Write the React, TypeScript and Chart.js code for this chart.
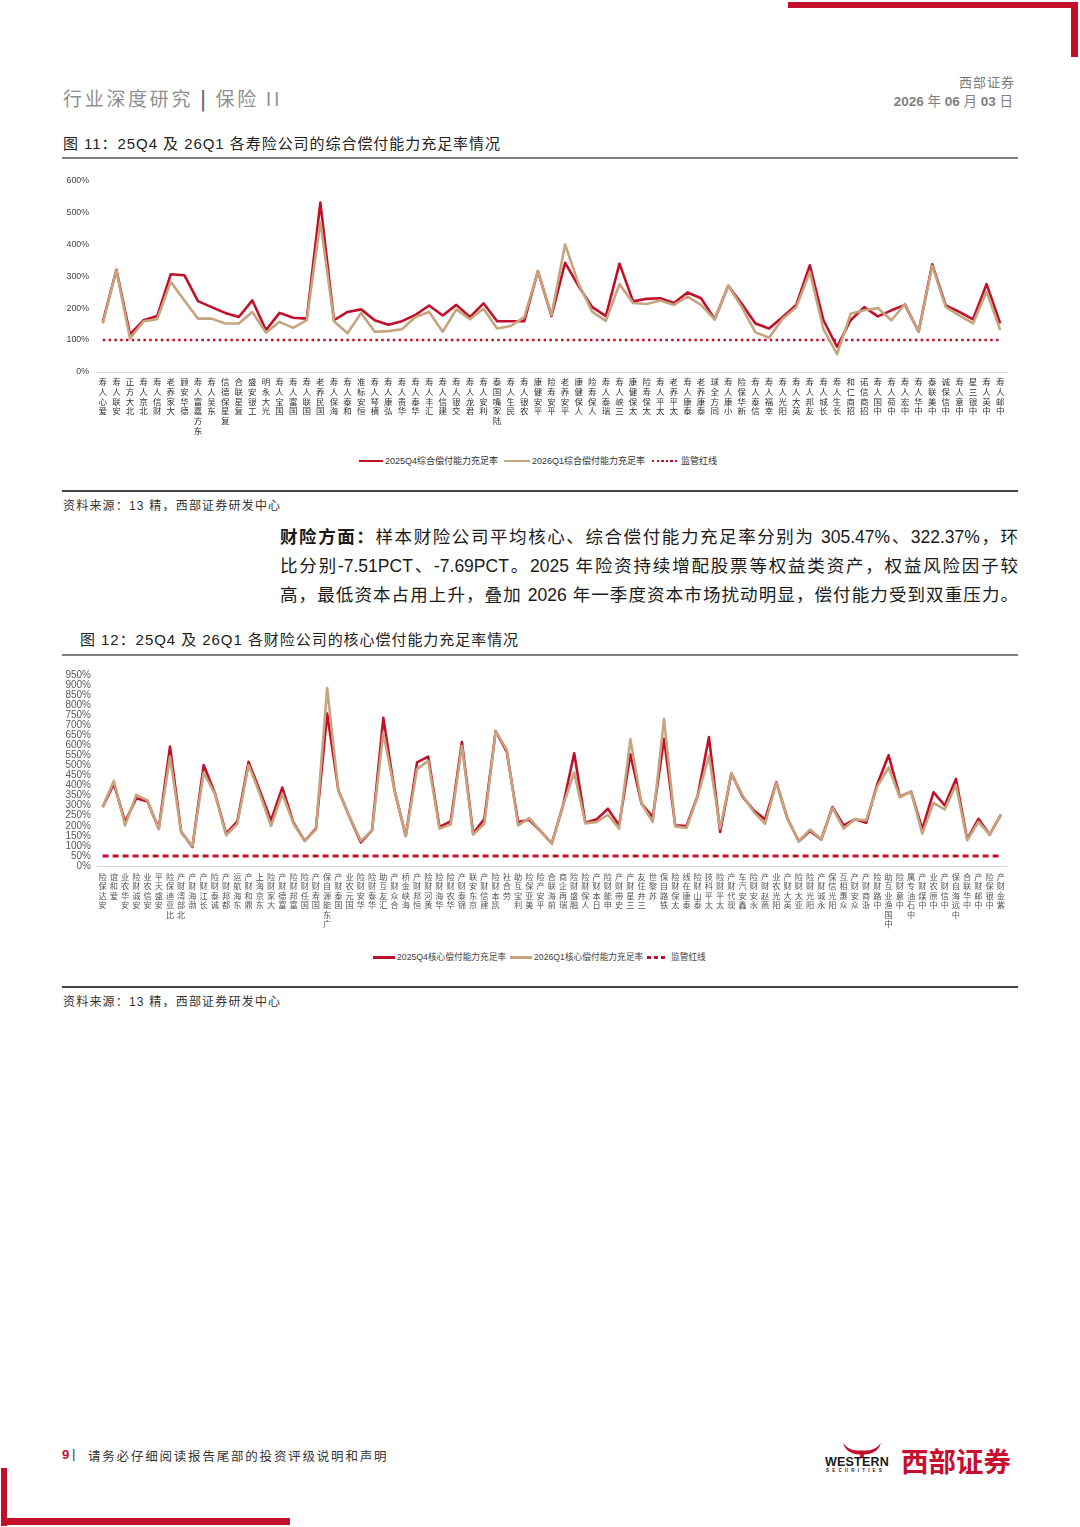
import { useEffect, useRef } from "react";
import { Chart, ChartConfiguration, registerables } from "chart.js";

Chart.register(...registerables);

const RED = "#C0102A";
const TAN = "#C5A57F";
const CJK = '"Noto Sans CJK SC", sans-serif';
const LATIN = '"Liberation Sans", Arial, "Noto Sans CJK SC", sans-serif';

Chart.defaults.font.family = CJK;

// 图11：寿险公司综合偿付能力充足率
const lifeCompanies = [
  "爱心人寿", "安联人寿", "北大方正", "北京人寿", "财信人寿", "大家养老", "德华安顾", "东方嘉富人寿", "东吴人寿", "复星保德信",
  "复星联合", "工银安盛", "光大永明", "国宝人寿", "国富人寿", "国联人寿", "国民养老", "海保人寿", "和泰人寿", "恒安标准",
  "横琴人寿", "弘康人寿", "华贵人寿", "华泰人寿", "汇丰人寿", "建信人寿", "交银人寿", "君龙人寿", "利安人寿", "陆家嘴国泰",
  "民生人寿", "农银人寿", "平安健康", "平安寿险", "平安养老", "人保健康", "人保寿险", "瑞泰人寿", "三峡人寿", "太保健康",
  "太保寿险", "太平人寿", "太平养老", "泰康人寿", "泰康养老", "同方全球", "小康人寿", "新华保险", "信泰人寿", "幸福人寿",
  "阳光人寿", "英大人寿", "友邦人寿", "长城人寿", "长生人寿", "招商仁和", "招商信诺", "中国人寿", "中荷人寿", "中宏人寿",
  "中华人寿", "中美联泰", "中信保诚", "中意人寿", "中银三星", "中英人寿", "中邮人寿",
];
const lifeQ4 = [
  157, 320, 118, 162, 175, 306, 303, 222, 203, 185,
  172, 224, 131, 185, 170, 167, 530, 162, 188, 196,
  162, 148, 159, 179, 208, 177, 210, 172, 215, 159,
  159, 159, 316, 175, 342, 268, 203, 175, 339, 221,
  229, 231, 216, 249, 231, 165, 270, 213, 152, 136,
  172, 210, 334, 162, 79, 162, 203, 174, 193, 210,
  126, 337, 208, 188, 165, 275, 152,
];
const lifeQ1 = [
  152, 318, 105, 159, 165, 282, 224, 167, 167, 152,
  152, 188, 123, 157, 138, 162, 470, 159, 121, 185,
  126, 128, 134, 172, 188, 126, 196, 165, 198, 136,
  144, 172, 316, 178, 399, 275, 188, 160, 275, 216,
  213, 224, 210, 236, 210, 164, 270, 203, 124, 107,
  167, 203, 313, 134, 56, 182, 193, 200, 162, 213,
  126, 332, 203, 177, 152, 252, 131,
];
const lifeRedLine = 100;
const lifeYMax = 600;
const lifeYStep = 100;

// 图12：财险公司核心偿付能力充足率
const propertyCompanies = [
  "安达保险", "爱和谊", "安华农业", "安诚财险", "安信农业", "安盛天平", "比亚迪保险", "北部湾财产", "渤海财产", "长江财产",
  "诚泰财险", "都邦财产", "东海航运", "鼎和财产", "东京海上", "大家财险", "富德财产", "富邦财险", "国任财险", "国寿财产",
  "广东能源自保", "国泰财产", "国元农业", "华安财险", "华泰财险", "汇友互助", "合众财产", "海峡金桥", "恒邦财产", "黄河财险",
  "华海财险", "华农财险", "锦泰财产", "京东安联", "建信财产", "凯本财险", "劳合社", "利宝互助", "美亚保险", "平安产险",
  "前海联合", "瑞再企商", "融盛财险", "人保财险", "日本财产", "申能财险", "史带财产", "三星财产", "三井住友", "苏黎世",
  "铁路自保", "太保财险", "泰康在线", "泰山财险", "太平科技", "太平财险", "现代财产", "鑫安汽车", "永安财险", "燕赵财产",
  "阳光农业", "英大财产", "亚太财险", "阳光财险", "永诚财产", "阳光信保", "众惠相互", "众安财产", "浙商财产", "中路财险",
  "中国渔业互助", "中意财险", "中石油专属", "中煤财产", "中原农业", "中信财产", "中远海自保", "中华联合", "中邮财产", "中银保险",
  "紫金财产",
];
const propertyQ4 = [
  293, 410, 219, 337, 321, 186, 594, 169, 95, 502,
  362, 161, 222, 518, 375, 227, 390, 215, 125, 186,
  758, 375, 243, 117, 178, 737, 375, 150, 515, 544,
  194, 222, 617, 161, 235, 671, 567, 219, 230, 174,
  112, 300, 561, 215, 232, 285, 202, 556, 309, 243,
  633, 202, 199, 350, 641, 169, 461, 345, 276, 232,
  416, 235, 123, 174, 132, 293, 202, 232, 215, 408,
  551, 345, 370, 183, 367, 301, 433, 133, 235, 156,
  255,
];
const propertyQ1 = [
  293, 424, 202, 354, 326, 183, 544, 166, 99, 465,
  359, 153, 210, 502, 359, 199, 359, 210, 125, 181,
  885, 375, 243, 125, 178, 663, 375, 150, 482, 523,
  186, 206, 597, 156, 210, 671, 577, 202, 238, 174,
  112, 300, 465, 212, 219, 255, 186, 630, 309, 219,
  732, 197, 189, 347, 548, 186, 461, 350, 268, 210,
  413, 235, 123, 181, 133, 288, 186, 232, 227, 396,
  490, 342, 370, 161, 314, 281, 403, 128, 219, 156,
  255,
];
const propertyRedLine = 50;
const propertyYMax = 950;
const propertyYStep = 50;

// 竖排标签：逐字换行，末字贴近坐标轴
const stacked = (name: string) => Array.from(name).reverse();

type SolvencyProps = {
  labels: string[];
  q4: number[];
  q1: number[];
  redLine: number;
  yMax: number;
  yStep: number;
  left: number;
  top: number;
  width: number;
  height: number;
  yAxisWidth: number;
  yPad: number;
  xPad: number;
  xFont: number;
  yFont: number;
  xColor: string;
  yColor: string;
  dash: number[];
  dashWidth: number;
};

function SolvencyChart(p: SolvencyProps) {
  const canvasRef = useRef<HTMLCanvasElement>(null);
  const chartRef = useRef<Chart | null>(null);

  useEffect(() => {
    if (!canvasRef.current) return;
    const ctx = canvasRef.current.getContext("2d");
    if (!ctx) return;

    if (chartRef.current) {
      chartRef.current.destroy();
    }

    const config: ChartConfiguration = {
      type: "line",
      data: {
        labels: p.labels.map(stacked),
        datasets: [
          {
            label: "2026Q1",
            data: p.q1,
            borderColor: TAN,
            borderWidth: 2.6,
            borderJoinStyle: "round",
            pointRadius: 0,
            tension: 0,
            order: 0,
          },
          {
            label: "2025Q4",
            data: p.q4,
            borderColor: RED,
            borderWidth: 2.6,
            borderJoinStyle: "round",
            pointRadius: 0,
            tension: 0,
            order: 1,
          },
          {
            label: "监管红线",
            data: p.labels.map(() => p.redLine),
            borderColor: RED,
            borderWidth: p.dashWidth,
            borderDash: p.dash,
            pointRadius: 0,
            order: 2,
          },
        ],
      },
      options: {
        responsive: false,
        animation: false,
        layout: { padding: { top: 10, right: 4, left: 0, bottom: 0 } },
        plugins: {
          legend: { display: false },
          tooltip: { enabled: false },
        },
        scales: {
          x: {
            offset: true,
            grid: { display: false, drawTicks: false },
            border: { display: true, color: "#d9d9d9", width: 1 },
            ticks: {
              autoSkip: false,
              minRotation: 0,
              maxRotation: 0,
              padding: p.xPad,
              color: p.xColor,
              font: { family: CJK, size: p.xFont, lineHeight: 1.15 },
            },
            afterFit: (scale) => {
              scale.height = 75;
            },
          },
          y: {
            min: 0,
            max: p.yMax,
            grid: { display: false, drawTicks: false },
            border: { display: false },
            ticks: {
              stepSize: p.yStep,
              autoSkip: false,
              padding: p.yPad,
              color: p.yColor,
              font: { family: LATIN, size: p.yFont },
              callback: (value) => `${value}%`,
            },
            afterFit: (scale) => {
              scale.width = p.yAxisWidth;
            },
          },
        },
      },
    };

    chartRef.current = new Chart(ctx, config);

    return () => {
      if (chartRef.current) {
        chartRef.current.destroy();
      }
    };
  }, []);

  return (
    <canvas
      ref={canvasRef}
      width={p.width}
      height={p.height}
      style={{ position: "absolute", left: p.left, top: p.top, width: p.width, height: p.height }}
    ></canvas>
  );
}

type TextProps = {
  x: number;
  cy: number;
  size: number;
  children: React.ReactNode;
  color?: string;
  weight?: number | string;
  spacing?: number;
  family?: string;
  right?: boolean;
};

function Text({ x, cy, size, children, color = "#222", weight = 400, spacing = 0, family = LATIN, right }: TextProps) {
  const lh = Math.round(size * 1.5);
  const pos = right ? { right: 1080 - x } : { left: x };
  return (
    <div
      style={{
        position: "absolute",
        ...pos,
        top: cy - lh / 2,
        lineHeight: `${lh}px`,
        fontSize: size,
        color,
        fontWeight: weight,
        letterSpacing: spacing,
        fontFamily: family,
        whiteSpace: "nowrap",
      }}
    >
      {children}
    </div>
  );
}

function Box({ x, y, w, h, bg }: { x: number; y: number; w: number; h: number; bg: string }) {
  return <div style={{ position: "absolute", left: x, top: y, width: w, height: h, background: bg }} />;
}

function Swatch({ x, cy, w, h, kind }: { x: number; cy: number; w: number; h: number; kind: string }) {
  let bg = RED;
  if (kind === "tan") bg = TAN;
  if (kind === "dot") bg = `repeating-linear-gradient(to right, ${RED} 0 2.5px, transparent 2.5px 4.6px)`;
  if (kind === "dash") bg = `repeating-linear-gradient(to right, ${RED} 0 4.5px, transparent 4.5px 7px)`;
  return <Box x={x} y={cy - h / 2} w={w} h={h} bg={bg} />;
}

const paragraphLines = [
  "样本财险公司平均核心、综合偿付能力充足率分别为 305.47%、322.37%，环",
  "比分别-7.51PCT、-7.69PCT。2025 年险资持续增配股票等权益类资产，权益风险因子较",
  "高，最低资本占用上升，叠加 2026 年一季度资本市场扰动明显，偿付能力受到双重压力。",
];

export default function App() {
  const lineStyle = (cy: number) => ({
    position: "absolute" as const,
    left: 280,
    width: 738,
    top: cy - 14,
    lineHeight: "28px",
    fontSize: 17.5,
    color: "#1a1a1a",
    fontFamily: LATIN,
    textAlign: "justify" as const,
    textAlignLast: "justify" as const,
    whiteSpace: "nowrap" as const,
  });

  return (
    <div style={{ position: "absolute", left: 0, top: 0, width: 1080, height: 1527, background: "#fff", overflow: "hidden" }}>
      {/* 页眉 */}
      <Box x={788} y={2} w={290} h={6} bg={RED} />
      <Box x={1071} y={2} w={7} h={55} bg={RED} />
      <Text x={63} cy={97} size={19} color="#8f8f8f" spacing={2.7} family={CJK}>
        行业深度研究 <span style={{ color: "#666", fontWeight: 700 }}>|</span> 保险 II
      </Text>
      <Text x={1015} cy={82} size={13} color="#7a7a7a" spacing={1} family={CJK} right>
        西部证券
      </Text>
      <Text x={1013} cy={101.5} size={13.5} color="#7f7f7f" weight={700} right>
        2026 <span style={{ fontWeight: 400 }}>年</span> 06 <span style={{ fontWeight: 400 }}>月</span> 03{" "}
        <span style={{ fontWeight: 400 }}>日</span>
      </Text>

      {/* 图11 */}
      <Text x={63} cy={143} size={15} color="#222" spacing={0.95}>
        图 11：25Q4 及 26Q1 各寿险公司的综合偿付能力充足率情况
      </Text>
      <Box x={62} y={157} w={956} h={2} bg="#808080" />
      <SolvencyChart
        labels={lifeCompanies}
        q4={lifeQ4}
        q1={lifeQ1}
        redLine={lifeRedLine}
        yMax={lifeYMax}
        yStep={lifeYStep}
        left={50}
        top={168}
        width={961}
        height={279}
        yAxisWidth={46}
        yPad={7}
        xPad={5}
        xFont={8.5}
        yFont={8.8}
        xColor="#333"
        yColor="#404040"
        dash={[2.5, 3.3]}
        dashWidth={2.6}
      />
      <Swatch x={359} cy={461} w={24} h={2.5} kind="red" />
      <Text x={385} cy={461} size={9} color="#333">2025Q4综合偿付能力充足率</Text>
      <Swatch x={504} cy={461} w={26} h={2.5} kind="tan" />
      <Text x={532} cy={461} size={9} color="#333">2026Q1综合偿付能力充足率</Text>
      <Swatch x={652} cy={461} w={26} h={2.5} kind="dot" />
      <Text x={681} cy={461} size={9} color="#333">监管红线</Text>
      <Box x={62} y={490} w={956} h={1.5} bg="#444" />
      <Text x={63} cy={506} size={12} color="#333" spacing={1.2}>
        资料来源：13 精，西部证券研发中心
      </Text>

      {/* 正文 */}
      {paragraphLines.map((line, i) => (
        <div key={i} style={lineStyle(537 + i * 29)}>
          {i === 0 && <b>财险方面：</b>}
          {line}
        </div>
      ))}

      {/* 图12 */}
      <Text x={80} cy={639.5} size={15} color="#222" spacing={0.95}>
        图 12：25Q4 及 26Q1 各财险公司的核心偿付能力充足率情况
      </Text>
      <Box x={62} y={654} w={956} h={2} bg="#808080" />
      <SolvencyChart
        labels={propertyCompanies}
        q4={propertyQ4}
        q1={propertyQ1}
        redLine={propertyRedLine}
        yMax={propertyYMax}
        yStep={propertyYStep}
        left={50}
        top={663}
        width={961}
        height={278}
        yAxisWidth={47}
        yPad={6}
        xPad={6}
        xFont={8.2}
        yFont={10}
        xColor="#555"
        yColor="#595959"
        dash={[6, 4]}
        dashWidth={3}
      />
      <Swatch x={373} cy={957.5} w={22} h={3} kind="red" />
      <Text x={397} cy={957.5} size={8.7} color="#444">2025Q4核心偿付能力充足率</Text>
      <Swatch x={510} cy={957.5} w={22} h={3} kind="tan" />
      <Text x={534} cy={957.5} size={8.7} color="#444">2026Q1核心偿付能力充足率</Text>
      <Swatch x={647} cy={957.5} w={21} h={3} kind="dash" />
      <Text x={671} cy={957.5} size={8.7} color="#444">监管红线</Text>
      <Box x={62} y={986} w={956} h={1.5} bg="#444" />
      <Text x={63} cy={1002} size={12} color="#333" spacing={1.2}>
        资料来源：13 精，西部证券研发中心
      </Text>

      {/* 页脚 */}
      <Text x={62} cy={1455} size={13} color={RED} weight={700}>9</Text>
      <Text x={72} cy={1454} size={13} color="#333">|</Text>
      <Text x={88} cy={1455} size={12.5} color="#333" spacing={1.8} family={CJK}>
        请务必仔细阅读报告尾部的投资评级说明和声明
      </Text>
      <svg style={{ position: "absolute", left: 842, top: 1442 }} width={40} height={16} viewBox="0 0 42 17">
        <path d="M1 1 C3 10 12 14 21 13 C30 14 39 10 41 1 C36 8 29 9.5 21 9 C13 9.5 6 8 1 1 Z" fill={RED} />
        <rect x={19} y={11} width={4} height={6} fill={RED} />
      </svg>
      <Text x={825} cy={1462} size={12.5} color="#1a1a1a" weight={700} spacing={0.2}>WESTERN</Text>
      <Text x={826} cy={1470.5} size={4.5} color="#1a1a1a" weight={700} spacing={3.2}>SECURITIES</Text>
      <Text x={901} cy={1460} size={27.5} color="#C8102E" weight={700} spacing={0} family={CJK}>西部证券</Text>
      <Box x={1} y={1468} w={6} h={58} bg={RED} />
      <Box x={1} y={1518} w={289} h={7} bg={RED} />
    </div>
  );
}
